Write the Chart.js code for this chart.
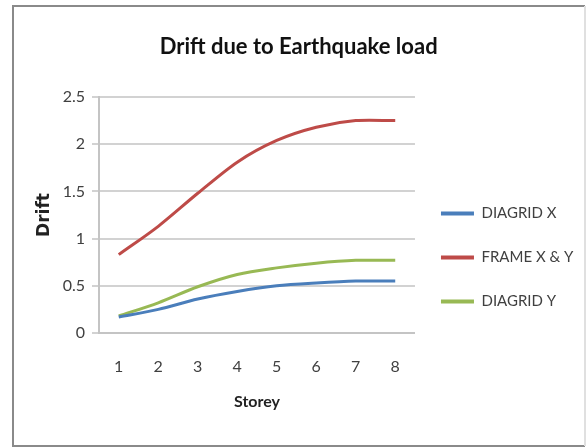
<!DOCTYPE html>
<html lang="en">
<head>
  <meta charset="UTF-8">
  <title>Drift due to Earthquake load</title>
  <script src="https://cdn.jsdelivr.net/npm/chart.js"></script>
  <style>
    html, body { margin: 0; padding: 0; background: #fff; }
    canvas { display: block; }
  </style>
</head>
<body>
<canvas id="driftChart" width="586" height="448"></canvas>

<script>
  // Values
  const storeys = ['1', '2', '3', '4', '5', '6', '7', '8'];
  const diagridX = [0.17, 0.25, 0.36, 0.44, 0.50, 0.53, 0.55, 0.55];
  const frameXY = [0.83, 1.13, 1.48, 1.81, 2.04, 2.18, 2.25, 2.25];
  const diagridY = [0.18, 0.32, 0.49, 0.62, 0.69, 0.74, 0.77, 0.77];
  const seriesNames = ['DIAGRID X', 'FRAME X & Y', 'DIAGRID Y'];
  const seriesColors = ['#4a7ebb', '#be4b48', '#98b954'];
  const yMin = 0, yMax = 2.5, yStep = 0.5;

  const sans = "Lato, 'Open Sans', sans-serif";

  // grey border round the whole chart (Excel chart frame)
  const framePlugin = {
    id: 'frame',
    beforeDraw(chart) {
      const ctx = chart.ctx;
      ctx.save();
      ctx.fillStyle = '#fff';
      ctx.fillRect(0, 0, chart.width, chart.height);
      ctx.lineWidth = 2;
      ctx.strokeStyle = '#8a8a8a';
      ctx.beginPath();
      ctx.moveTo(585, 6); ctx.lineTo(13, 6); ctx.lineTo(13, 446); ctx.lineTo(585, 446);
      ctx.stroke();
      ctx.strokeStyle = '#e0e0e0';
      ctx.beginPath();
      ctx.moveTo(585, 6); ctx.lineTo(585, 446);
      ctx.stroke();
      ctx.restore();
    }
  };

  // Excel places legend and title a bit off from where Chart.js puts them
  const boxNudge = {
    id: 'boxNudge',
    afterLayout(chart) {
      const legend = chart.legend;
      legend.top += 47;
      legend.bottom += 47;
      legend.left -= 3;
      legend.right = chart.width - 4;   // legend is clipped to its box, give the text room
      chart.titleBlock.left += 17;
      chart.titleBlock.right += 17;
    }
  };

  const datasets = [diagridX, frameXY, diagridY].map((values, i) => ({
    label: seriesNames[i],
    data: values,
    borderColor: seriesColors[i],
    backgroundColor: seriesColors[i]
  }));

  new Chart(document.getElementById('driftChart'), {
    type: 'line',
    data: { labels: storeys, datasets },
    options: {
      responsive: false,
      animation: false,
      layout: { padding: { left: 15, top: 5, right: 37.7, bottom: 32 } },
      elements: {
        line: { borderWidth: 3, tension: 0.3 },
        point: { radius: 0 }
      },
      plugins: {
        title: {
          display: true,
          text: 'Drift due to Earthquake load',
          color: '#111',
          font: { family: sans, size: 22, weight: 'bold' },
          padding: { top: 28.8, bottom: 36.8 }
        },
        legend: {
          position: 'right',
          labels: {
            boxWidth: 33,
            boxHeight: 4,
            padding: 29,
            color: '#404040',
            font: { family: sans, size: 15 },
            generateLabels(chart) {
              return Chart.defaults.plugins.legend.labels.generateLabels(chart)
                .map(item => ({ ...item, lineWidth: 0, strokeStyle: 'transparent' }));
            }
          }
        },
        tooltip: { enabled: false }
      },
      scales: {
        x: {
          offset: true,
          grid: { display: false, drawTicks: false },
          border: { display: true, color: '#c4c4c4', width: 2 },
          ticks: { padding: 24.4, color: '#404040', font: { family: sans, size: 16 } },
          title: {
            display: true,
            text: 'Storey',
            color: '#222',
            font: { family: sans, size: 16, weight: 'bold' },
            padding: { top: 0, bottom: 4.4 }
          },
          afterFit(scale) { scale.height = 83; }
        },
        y: {
          min: yMin,
          max: yMax,
          ticks: {
            stepSize: yStep,
            padding: 7,
            color: '#404040',
            font: { family: sans, size: 16 },
            callback: value => String(value)
          },
          grid: { color: '#d2d2d2', lineWidth: 2, tickLength: 7 },
          border: { color: '#c4c4c4', width: 2 },
          title: {
            display: true,
            text: 'Drift',
            color: '#222',
            font: { family: "'DejaVu Sans', sans-serif", size: 17, weight: 'bold' },
            padding: { top: 19.8, bottom: 0 }
          },
          afterFit(scale) { scale.width = 84; }
        }
      }
    },
    plugins: [framePlugin, boxNudge]
  });
</script>
</body>
</html>
